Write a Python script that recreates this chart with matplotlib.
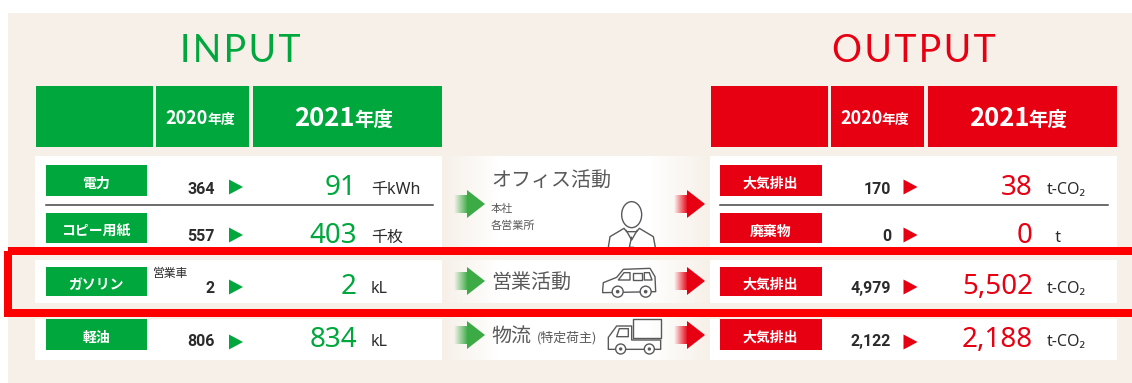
import matplotlib
matplotlib.use('Agg')
import matplotlib.pyplot as plt
from matplotlib.colors import to_rgb
from matplotlib.patches import Circle, Ellipse, Polygon, Rectangle
import numpy as np

JP = ['Noto Sans CJK JP', 'DejaVu Sans']
LATIN = ['Noto Sans', 'Noto Sans CJK JP', 'DejaVu Sans']
NUM = ['Roboto', 'DejaVu Sans']
TITLE = ['Lato', 'DejaVu Sans']

BG = '#f6f0e8'
GREEN = '#00a73c'
RED = '#e60012'
FRAME = '#ff0000'
GREY = '#595959'
DARK = '#2b2b2b'

year_prev = '2020'
year_curr = '2021'
year_suffix = '年度'

input_labels = ['電力', 'コピー用紙', 'ガソリン', '軽油']
input_2020 = ['364', '557', '2', '806']
input_2021 = ['91', '403', '2', '834']
input_units = ['千kWh', '千枚', 'kL', 'kL']

output_labels = ['大気排出', '廃棄物', '大気排出', '大気排出']
output_2020 = ['170', '0', '4,979', '2,122']
output_2021 = ['38', '0', '5,502', '2,188']
output_units = ['t-CO₂', '  t', 't-CO₂', 't-CO₂']

activities = ['オフィス活動', '営業活動', '物流']

# row layout in pixels: label box, baselines and arrow centre
label_boxes = [(165, 196), (213, 243), (267, 296), (319, 350)]
prev_base = [194, 241, 293, 346]
curr_base = [195, 243, 294, 347]
arrow_mid = [187, 235, 287, 342]

fig = plt.figure(figsize=(11.32, 3.83), dpi=100)
ax = fig.add_axes([0, 0, 1, 1])
ax.axis('off')


def box(x0, y0, x1, y1, color, z=1):
    ax.add_patch(Rectangle((x0, y0), x1 - x0, y1 - y0, fc=color, ec='none', zorder=z))


def fade(x0, y0, x1, y1, color, z=2):
    # shaft of the flow arrows, transparent on the left
    rgba = np.ones((1, 64, 4))
    rgba[..., :3] = to_rgb(color)
    rgba[..., 3] = np.linspace(0, 1, 64)
    ax.imshow(rgba, extent=(x0, x1, y1, y0), aspect='auto', zorder=z)


def flow_arrow(x, y, color):
    fade(x, y - 9, x + 14, y + 9, color)
    ax.add_patch(Polygon([(x + 13, y - 14), (x + 31, y), (x + 13, y + 14)], fc=color, ec='none', zorder=3))


def year_head(xj, y, year, size_num, size_jp):
    ax.text(xj, y, year, color='white', fontsize=size_num, family=JP, weight='bold', ha='right', va='baseline')
    ax.text(xj - 1, y, year_suffix, color='white', fontsize=size_jp, family=JP, weight='bold', ha='left', va='baseline')


def side(x_off, shift, color, labels, prev, curr, units):
    box(x_off + 36, 86, x_off + 153, 147, color)
    box(x_off + 156, 86, x_off + 249, 147, color)
    box(x_off + 253, 86, x_off + 442, 147, color)
    year_head(x_off + 208, 124, year_prev, 13, 10)
    year_head(x_off + 355, 126, year_curr, 18.5, 14)
    for y0, y1 in [(156, 247), (260, 303), (319, 360)]:
        box(x_off + 35, y0, x_off + 442, y1, 'white')
    ax.plot([x_off + 45.5, x_off + 433], [204.5, 204.5], color='#444444', lw=1.1, zorder=3)
    for i in range(4):
        y0, y1 = label_boxes[i]
        box(x_off + 45.5, y0, x_off + 147, y1, color, z=2)
        ax.text(x_off + 96, (y0 + y1) / 2 + 3.5, labels[i], color='white', fontsize=10, family=JP,
                weight='bold', ha='center', va='center', zorder=4)
        ax.text(x_off + 215 + shift, prev_base[i], prev[i], color=DARK, fontsize=11.5, family=NUM,
                weight='bold', ha='right', va='baseline', zorder=4)
        m = arrow_mid[i]
        ax.add_patch(Polygon([(x_off + 229, m - 7.5), (x_off + 243, m), (x_off + 229, m + 7.5)],
                             fc=color, ec='none', zorder=3))
        ax.text(x_off + 357 + shift, curr_base[i], curr[i], color=color, fontsize=20, family=LATIN,
                ha='right', va='baseline', zorder=4)
        ax.text(x_off + 371 + shift, curr_base[i] - 1, units[i], color=DARK, fontsize=11.5, family=LATIN,
                ha='left', va='baseline', zorder=4)


def z(pts):
    return [(440 + px / 3, 140 + py / 3) for px, py in pts]


def outline(pts, closed=True):
    ax.add_patch(Polygon(z(pts), closed=closed, fc='none', ec=GREY, lw=1, zorder=4, joinstyle='round'))


def wheel(px, py, r):
    (cx, cy), = z([(px, py)])
    ax.add_patch(Circle((cx, cy), r, fc='white', ec=GREY, lw=1, zorder=5))
    ax.add_patch(Circle((cx, cy), r / 3, fc=GREY, ec='none', zorder=6))


# background
box(8, 13, 1132, 383, BG, z=0)

ax.text(240, 62, '\u200a'.join('INPUT'), color=GREEN, fontsize=27, family=TITLE, ha='center', va='baseline')
ax.text(914, 62, '\u200a'.join('OUTPUT'), color=RED, fontsize=27, family=TITLE, ha='center', va='baseline')

side(0, 0, GREEN, input_labels, input_2020, input_2021, input_units)
side(674.5, 1.5, RED, output_labels, output_2020, output_2021, output_units)

# centre column fades into the background on both sides
bg_rgb = np.array(to_rgb(BG))
stops = np.interp(np.arange(267), [0, 55, 205, 267], [0, 1, 1, 0])[None, :, None]
centre = bg_rgb + (1 - bg_rgb) * stops
for y0, y1 in [(156, 247), (260, 303), (317, 360)]:
    ax.imshow(centre, extent=(443, 710, y1, y0), aspect='auto', zorder=1)

for y in [204, 281, 335]:
    flow_arrow(454, y, '#3cab45')
    flow_arrow(674, y, RED)

ax.text(491, 186, activities[0], color=GREY, fontsize=14.4, family=JP, ha='left', va='baseline', zorder=4)
ax.text(491, 212, '本社', color=GREY, fontsize=8, family=JP, ha='left', va='baseline', zorder=4)
ax.text(491, 229, '各営業所', color=GREY, fontsize=8, family=JP, ha='left', va='baseline', zorder=4)
ax.text(491, 288, activities[1], color=GREY, fontsize=14.4, family=JP, ha='left', va='baseline', zorder=4)
ax.text(491, 342, activities[2], color=GREY, fontsize=14.4, family=JP, ha='left', va='baseline', zorder=4)
ax.text(537, 342, '(特定荷主)', color=GREY, fontsize=9.3, family=JP, ha='left', va='baseline', zorder=4)
ax.text(153, 277, '営業車', color=DARK, fontsize=8.5, family=JP, ha='left', va='baseline', zorder=4)

# person
(hx, hy), = z([(575, 224)])
ax.add_patch(Ellipse((hx, hy), 20, 26, fc='none', ec=GREY, lw=1, zorder=4))
outline([(505, 322), (510, 290), (552, 265), (560, 275), (590, 275), (598, 265), (640, 290), (646, 322)], closed=False)
outline([(558, 270), (575, 300), (592, 270)], closed=False)
outline([(575, 290), (568, 322), (582, 322), (575, 290)], closed=False)

# car
outline([(488, 450), (490, 428), (530, 412), (550, 388), (630, 385), (645, 410), (647, 455), (488, 458)])
outline([(535, 420), (552, 398), (570, 398), (570, 420)])
outline([(578, 398), (605, 398), (605, 420), (578, 420)])
outline([(613, 398), (628, 398), (636, 420), (613, 420)])
wheel(533, 455, 5.5)
wheel(617, 455, 5.5)

# truck
outline([(580, 538), (662, 538), (662, 595), (580, 595)])
outline([(505, 628), (505, 592), (530, 558), (575, 558), (575, 600), (662, 600), (662, 628)])
outline([(530, 590), (538, 566), (565, 566), (565, 590)])
wheel(542, 627, 5)
wheel(628, 627, 5)

# red highlight frame over the petrol row
ax.add_patch(Rectangle((8, 251), 1130, 62, fc='none', ec=FRAME, lw=5.76, zorder=8))

ax.set_xlim(0, 1132)
ax.set_ylim(383, 0)
fig.savefig('out.png', dpi=100, facecolor='white')
